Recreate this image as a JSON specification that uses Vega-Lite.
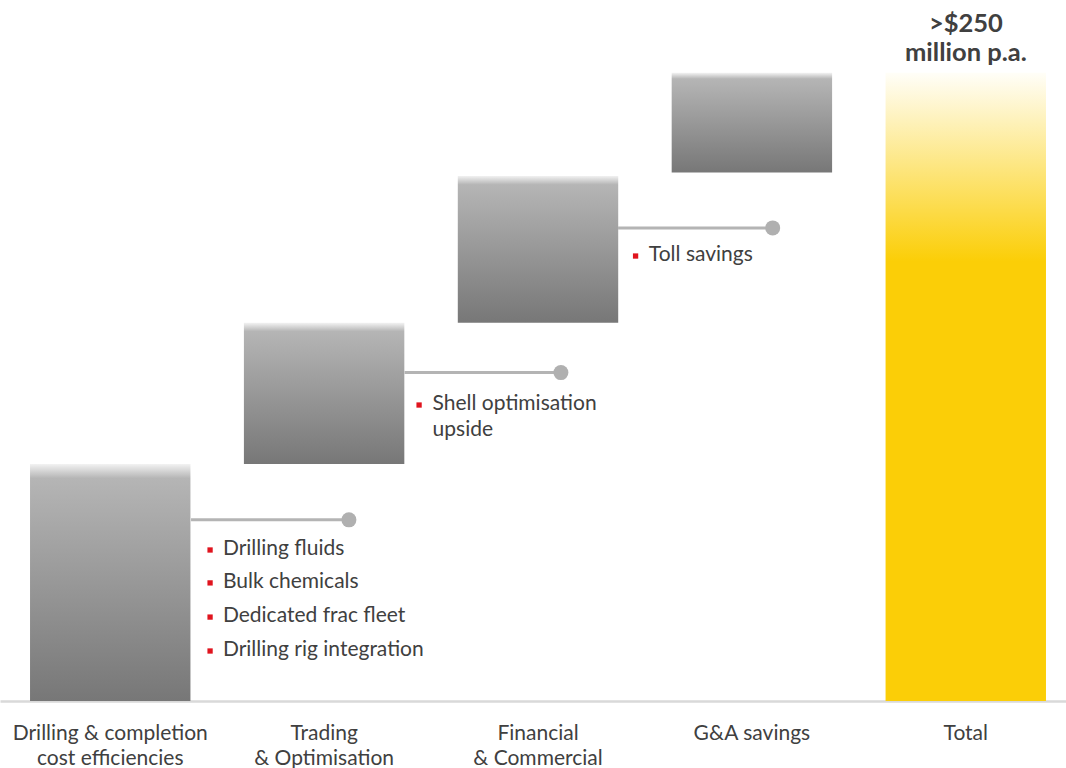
{
  "$schema": "https://vega.github.io/schema/vega-lite/v6.json",
  "width": 1066,
  "height": 701,
  "autosize": {"type": "none"},
  "padding": {"left": 0, "right": 0, "top": 0, "bottom": 67},
  "background": "white",
  "config": {"view": {"stroke": null}, "font": "Lato"},
  "datasets": {
    "bars": [
      {"cat": "Drilling & completion|cost efficiencies", "start": 0, "end": 94.3, "kind": "step"},
      {"cat": "Trading|& Optimisation", "start": 94.3, "end": 150.5, "kind": "step"},
      {"cat": "Financial|& Commercial", "start": 150.5, "end": 209, "kind": "step"},
      {"cat": "G&A savings", "start": 210.3, "end": 250, "kind": "step"},
      {"cat": "Total", "start": 0, "end": 250, "kind": "total"}
    ],
    "links": [
      {"from": 0.378, "to": 1.116, "level": 72.1},
      {"from": 1.376, "to": 2.107, "level": 130.7},
      {"from": 2.374, "to": 3.097, "level": 188.3}
    ],
    "bullets": [
      {"pos": 0.467, "level": 60.1},
      {"pos": 0.467, "level": 47.0},
      {"pos": 0.467, "level": 33.4},
      {"pos": 0.467, "level": 19.9},
      {"pos": 1.444, "level": 117.8},
      {"pos": 2.456, "level": 177.1}
    ],
    "notes": [
      {"pos": 0.527, "level": 58.1, "text": "Drilling fluids"},
      {"pos": 0.527, "level": 45.0, "text": "Bulk chemicals"},
      {"pos": 0.527, "level": 31.4, "text": "Dedicated frac fleet"},
      {"pos": 0.527, "level": 17.9, "text": "Drilling rig integration"},
      {"pos": 1.507, "level": 115.8, "text": "Shell optimisation"},
      {"pos": 1.507, "level": 105.5, "text": "upside"},
      {"pos": 2.518, "level": 175.2, "text": "Toll savings"}
    ],
    "headline": [
      {"pos": 4, "level": 266.3, "text": ">$250"},
      {"pos": 4, "level": 254.8, "text": "million p.a."}
    ]
  },
  "layer": [
    {
      "data": {"name": "bars"},
      "mark": {"type": "bar"},
      "encoding": {
        "x": {
          "field": "cat", "type": "nominal", "sort": null,
          "scale": {"paddingInner": 0.25, "paddingOuter": 0.117, "align": 0.6},
          "axis": {
            "title": null, "labelAngle": 0, "ticks": false,
            "domainColor": "#d9d9d9", "domainWidth": 2.5,
            "labelExpr": "split(datum.label, '|')",
            "labelFont": "Lato", "labelFontSize": 21, "labelColor": "#404040",
            "labelPadding": 21, "labelLineHeight": 25, "labelBaseline": "top",
            "labelLimit": 0, "labelOverlap": false
          }
        },
        "y": {"field": "start", "type": "quantitative", "scale": {"domain": [0, 279], "nice": false, "zero": true}, "axis": null},
        "y2": {"field": "end"},
        "fill": {
          "condition": {
            "test": "datum.kind === 'total'",
            "value": {"gradient": "linear", "x1": 0, "y1": 0, "x2": 0, "y2": 1,
              "stops": [{"offset": 0, "color": "#fffef8"}, {"offset": 0.3, "color": "#fbce07"}, {"offset": 1, "color": "#fbce07"}]}
          },
          "value": {"gradient": "linear", "x1": 0, "y1": 0, "x2": 0, "y2": 1,
            "stops": [{"offset": 0, "color": "#f2f2f2"}, {"offset": 0.06, "color": "#b5b5b5"}, {"offset": 1, "color": "#777777"}]}
        }
      }
    },
    {
      "layer": [
        {
          "data": {"name": "links"},
          "mark": {"type": "rule", "color": "#b4b4b4", "strokeWidth": 3},
          "encoding": {
            "x": {"field": "from", "type": "quantitative", "scale": {"domain": [-0.515, 4.468], "nice": false, "zero": false}, "axis": null},
            "x2": {"field": "to"},
            "y": {"field": "level", "type": "quantitative", "axis": null}
          }
        },
        {
          "data": {"name": "links"},
          "mark": {"type": "point", "shape": "circle", "filled": true, "color": "#b0b0b0", "size": 225, "opacity": 1},
          "encoding": {
            "x": {"field": "to", "type": "quantitative", "scale": {"domain": [-0.515, 4.468], "nice": false, "zero": false}, "axis": null},
            "y": {"field": "level", "type": "quantitative", "axis": null}
          }
        },
        {
          "data": {"name": "bullets"},
          "mark": {"type": "point", "shape": "square", "filled": true, "color": "#e0141e", "size": 28, "opacity": 1},
          "encoding": {
            "x": {"field": "pos", "type": "quantitative", "scale": {"domain": [-0.515, 4.468], "nice": false, "zero": false}, "axis": null},
            "y": {"field": "level", "type": "quantitative", "axis": null}
          }
        },
        {
          "data": {"name": "notes"},
          "mark": {"type": "text", "align": "left", "baseline": "alphabetic", "font": "Lato", "fontSize": 21, "color": "#404040"},
          "encoding": {
            "x": {"field": "pos", "type": "quantitative", "scale": {"domain": [-0.515, 4.468], "nice": false, "zero": false}, "axis": null},
            "y": {"field": "level", "type": "quantitative", "axis": null},
            "text": {"field": "text"}
          }
        },
        {
          "data": {"name": "headline"},
          "mark": {"type": "text", "align": "center", "baseline": "alphabetic", "font": "Lato", "fontSize": 25.5, "fontWeight": "bold", "color": "#404040"},
          "encoding": {
            "x": {"field": "pos", "type": "quantitative", "scale": {"domain": [-0.515, 4.468], "nice": false, "zero": false}, "axis": null},
            "y": {"field": "level", "type": "quantitative", "axis": null},
            "text": {"field": "text"}
          }
        }
      ]
    }
  ],
  "resolve": {"scale": {"x": "independent"}}
}
